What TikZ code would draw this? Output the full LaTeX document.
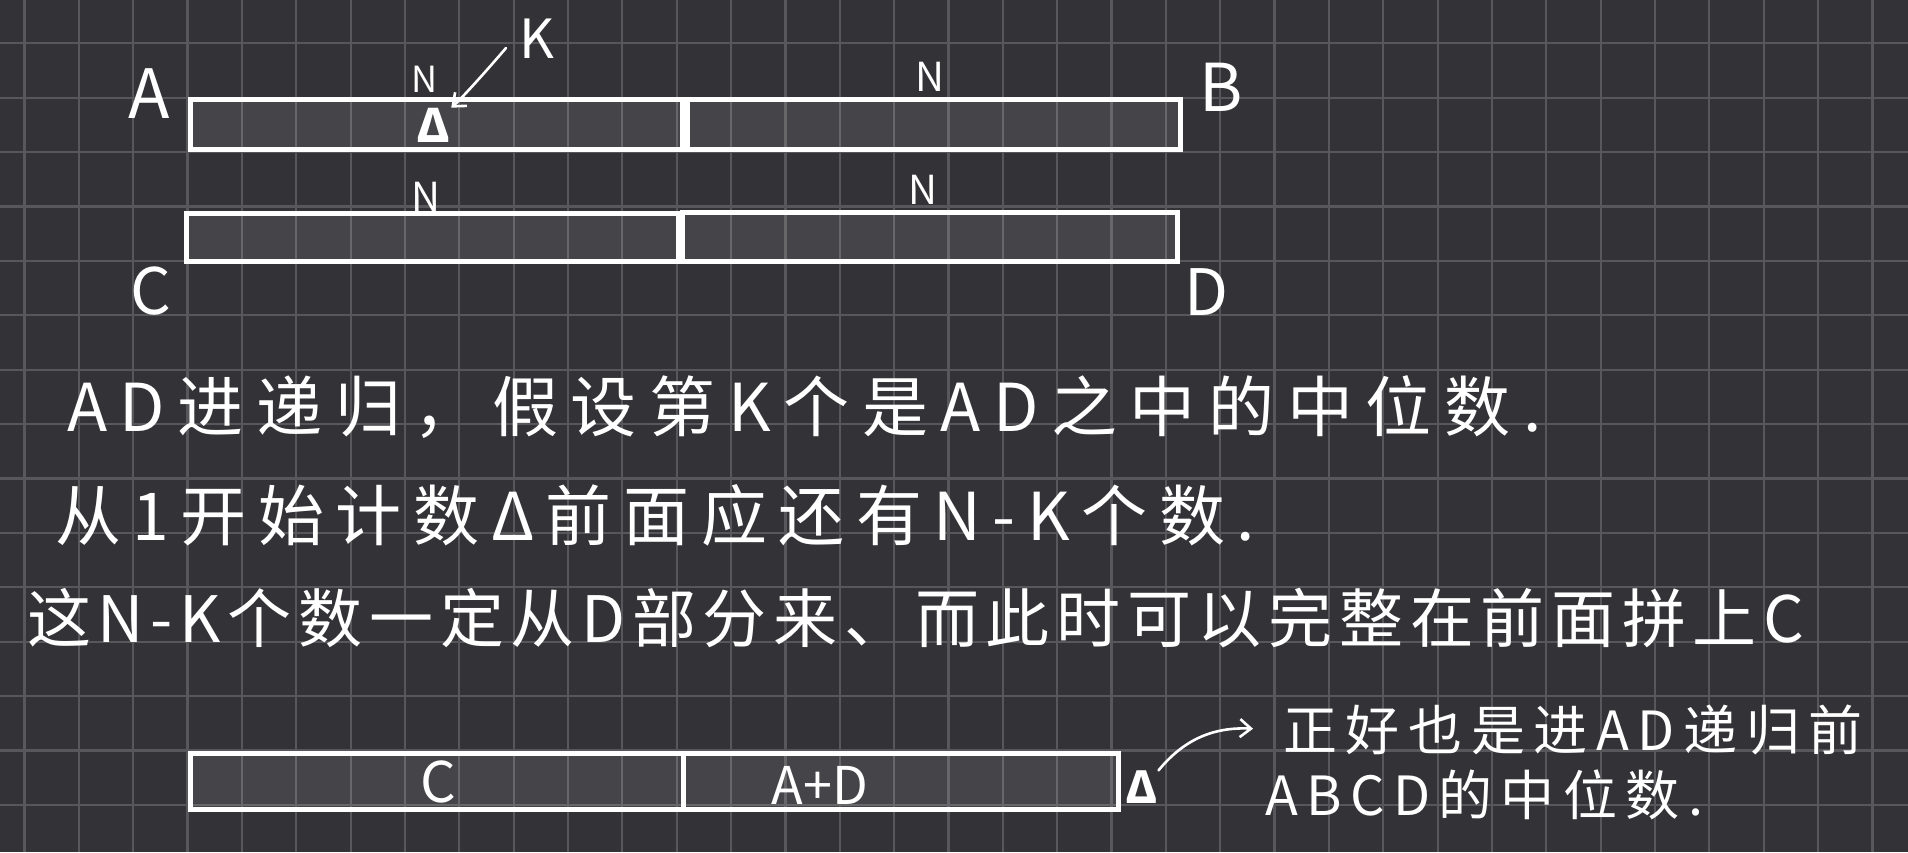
\documentclass[tikz,border=0pt]{standalone}
\usepackage{fontspec}
\usetikzlibrary{arrows.meta}
\newfontfamily\cjk{Noto Sans CJK SC}
\definecolor{bgc}{HTML}{333236}
\definecolor{gridc}{HTML}{58575B}
\tikzset{
  barbox/.style={draw=white, line width=4.5pt, fill=white, fill opacity=0.09, text opacity=1, inner sep=0pt, anchor=north west},
  hand/.style={text=white, inner sep=0pt, font=\cjk},
  penarrow/.style={draw=white, line width=2.6pt, line cap=round, -{Straight Barb[length=11pt,width=18pt,line width=2.6pt]}},
}
\begin{document}
\begin{tikzpicture}[x=1pt,y=-1pt]
\fill[bgc] (0,0) rectangle (1908,852);
\useasboundingbox (0,0) rectangle (1908,852);
% grid
\foreach \i in {0,...,34} {\draw[gridc, line width=2.2pt] ({24.5+54.35*\i},0) -- ({24.5+54.35*\i},852);}
\foreach \j in {0,...,14} {\draw[gridc, line width=2.2pt] (0,{43.3+54.4*\j}) -- (1908,{43.3+54.4*\j});}
% bars
\node[barbox, minimum width=492pt, minimum height=50pt] (barA) at (188,97) {};
\node[barbox, minimum width=493pt, minimum height=50pt] (barB) at (685,97) {};
\node[barbox, minimum width=492pt, minimum height=48pt] (barC) at (184,211) {};
\node[barbox, minimum width=495pt, minimum height=49pt] (barD) at (680,210) {};
\node[barbox, minimum width=493pt, minimum height=56pt] (barC2) at (188,751) {};
\node[barbox, minimum width=435pt, minimum height=56pt] (barAD) at (681,751) {};
% letters
\node[hand, font=\cjk\fontsize{68}{68}\selectfont] (lA) at (149,94) {A};
\node[hand, font=\cjk\fontsize{66}{66}\selectfont] (lB) at (1221,87) {B};
\node[hand, font=\cjk\fontsize{64}{64}\selectfont] (lC) at (151,291) {C};
\node[hand, font=\cjk\fontsize{64}{64}\selectfont] (lD) at (1206,292) {D};
\node[hand, font=\cjk\fontsize{36}{36}\selectfont] (nA) at (425,79) {N};
\node[hand, font=\cjk\fontsize{40}{40}\selectfont] (nB) at (930,77) {N};
\node[hand, font=\cjk\fontsize{40}{40}\selectfont] (nC) at (426,197) {N};
\node[hand, font=\cjk\fontsize{40}{40}\selectfont] (nD) at (923,190) {N};
\node[hand, font=\cjk\fontsize{54}{54}\selectfont] (kK) at (537,39) {K};
\node[hand, font=\cjk\bfseries\fontsize{46}{46}\selectfont] (triA) at (434,125) {Δ};
\draw[penarrow] (506,48) .. controls (482,76) and (460,100) .. (triA.north east);
% text lines
\node[hand, anchor=west, font=\cjk\fontsize{66}{66}\selectfont\addfontfeature{LetterSpace=19.1}] (t1) at (67,407) {AD进递归，假设第K个是AD之中的中位数.};
\node[hand, anchor=west, font=\cjk\fontsize{66}{66}\selectfont\addfontfeature{LetterSpace=17.5}] (t2) at (55,515) {从1开始计数Δ前面应还有N-K个数.};
\node[hand, anchor=west, font=\cjk\fontsize{64}{64}\selectfont\addfontfeature{LetterSpace=10.5}] (t3) at (27,618) {这N-K个数一定从D部分来、而此时可以完整在前面拼上C};
% bottom bar labels
\node[hand, font=\cjk\fontsize{56}{56}\selectfont] (lC2) at (438,782) {C};
\node[hand, font=\cjk\fontsize{52}{52}\selectfont] (lAD) at (820,785) {A+D};
\node[hand, font=\cjk\bfseries\fontsize{44}{44}\selectfont] (triB) at (1142,787) {Δ};
% side note
\node[hand, anchor=west, font=\cjk\fontsize{54}{54}\selectfont\addfontfeature{LetterSpace=16}] (n1) at (1283,730) {正好也是进AD递归前};
\node[hand, anchor=west, font=\cjk\fontsize{54}{54}\selectfont\addfontfeature{LetterSpace=15.5}] (n2) at (1265,795) {ABCD的中位数.};
\draw[penarrow, shorten >=30pt] (triB.north east) .. controls (1185,738) and (1215,727) .. (n1.west);
\end{tikzpicture}
\end{document}
